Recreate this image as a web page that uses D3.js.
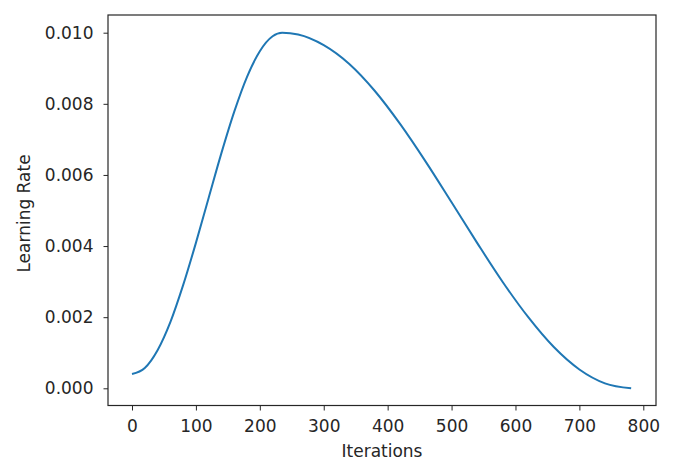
<!DOCTYPE html>
<html>
<head>
<meta charset="utf-8">
<script src="https://cdn.jsdelivr.net/npm/d3@7"></script>
<style>
  html, body { margin: 0; padding: 0; background: #fff; }
  svg { display: block; }
  text { font-family: "DejaVu Sans", sans-serif; fill: #262626; }
</style>
</head>
<body>
<svg id="chart" width="676" height="458"></svg>
<script>
// Data
const iterations = [0, 20, 40, 60, 80, 100, 120, 140, 160, 180, 200, 220, 235, 260, 300, 340, 380, 420, 460, 500, 540, 580, 620, 660, 700, 740, 781];
const learningRate = [0.0004, 0.00057, 0.00107, 0.00186, 0.0029, 0.00409, 0.00536, 0.00662, 0.00778, 0.00876, 0.00948, 0.0099, 0.0100, 0.00995, 0.00965, 0.00912, 0.00836, 0.00742, 0.00636, 0.00523, 0.00409, 0.00299, 0.0020, 0.00116, 0.00053, 0.00014, 0.0000];
const xTicks = [0, 100, 200, 300, 400, 500, 600, 700, 800];
const yTicks = [0.000, 0.002, 0.004, 0.006, 0.008, 0.010];
const xLabel = "Iterations";
const yLabel = "Learning Rate";

const svg = d3.select("#chart");
const mLeft = 108, mRight = 656, mTop = 15, mBottom = 405.5;
const fs = 17;

const x = d3.scaleLinear().domain([0, 800]).range([132, 643.3]);
const y = d3.scaleLinear().domain([0, 0.010]).range([388.3, 32.7]);

const data = iterations.map((d, i) => ({ x: d, y: learningRate[i] }));

// line
svg.append("path")
  .datum(data)
  .attr("fill", "none")
  .attr("stroke", "#1f77b4")
  .attr("stroke-width", 2)
  .attr("stroke-linejoin", "round")
  .attr("stroke-linecap", "butt")
  .attr("d", d3.line().x(d => x(d.x)).y(d => y(d.y)).curve(d3.curveMonotoneX));

// axes
const xAxis = d3.axisBottom(x).tickValues(xTicks).tickFormat(d3.format("d")).tickSizeOuter(0).tickSize(5).tickPadding(9);
const yAxis = d3.axisLeft(y).tickValues(yTicks).tickFormat(d3.format(".3f")).tickSizeOuter(0).tickSize(4.5).tickPadding(10);

const gx = svg.append("g").attr("transform", `translate(0,${mBottom})`).call(xAxis);
const gy = svg.append("g").attr("transform", `translate(${mLeft},0)`).call(yAxis);
[gx, gy].forEach(g => {
  g.select(".domain").remove();
  g.selectAll(".tick line").attr("stroke", "#262626").attr("stroke-width", 1);
  g.selectAll(".tick text").attr("font-family", "DejaVu Sans").attr("font-size", fs).attr("fill", "#262626");
});

// frame
svg.append("rect")
  .attr("x", mLeft).attr("y", mTop)
  .attr("width", mRight - mLeft).attr("height", mBottom - mTop)
  .attr("fill", "none").attr("stroke", "#262626").attr("stroke-width", 1.2);

// labels
svg.append("text")
  .attr("x", (mLeft + mRight) / 2).attr("y", 456.5)
  .attr("text-anchor", "middle").attr("font-size", fs)
  .text(xLabel);

svg.append("text")
  .attr("transform", `translate(29.5,213.5) rotate(-90)`)
  .attr("text-anchor", "middle").attr("font-size", fs)
  .text(yLabel);
</script>
</body>
</html>
